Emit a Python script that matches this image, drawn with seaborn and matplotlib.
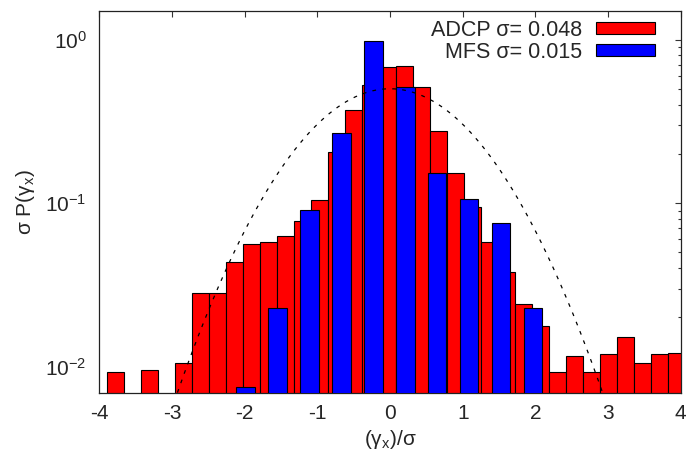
import numpy as np
import matplotlib
matplotlib.use("Agg")
import matplotlib.pyplot as plt
import seaborn as sns
from matplotlib.patches import Patch
from matplotlib.ticker import LogLocator, FixedLocator, NullLocator

# ---- data ----
adcp_x = [-3.780, -3.312, -2.844, -2.610, -2.376, -2.142, -1.908, -1.674, -1.440,
          -1.206, -0.972, -0.738, -0.504, -0.270, -0.036, 0.198, 0.432, 0.666,
          0.900, 1.134, 1.368, 1.602, 1.836, 2.070, 2.304, 2.538, 2.772, 3.006,
          3.240, 3.474, 3.708, 3.942]
adcp_p = [0.0093, 0.0096, 0.0106, 0.0282, 0.0282, 0.0436, 0.056, 0.0575, 0.0626,
          0.0773, 0.104, 0.205, 0.371, 0.526, 0.677, 0.684, 0.511, 0.277,
          0.152, 0.094, 0.0575, 0.038, 0.024, 0.0177, 0.0093, 0.0116, 0.0093, 0.0119,
          0.0152, 0.0106, 0.0119, 0.0122]
mfs_x = [-1.988, -1.548, -1.108, -0.668, -0.228, 0.212, 0.652, 1.092, 1.532, 1.972]
mfs_p = [0.00755, 0.0227, 0.0906, 0.267, 0.976, 0.509, 0.152, 0.106, 0.0758, 0.0227]

x_ticks = [-4, -3, -2, -1, 0, 1, 2, 3, 4]
adcp_label = "ADCP σ= 0.048"
mfs_label = "MFS σ= 0.015"
gauss_amp = 0.5
x_label = r"($\mathregular{γ_x}$)/σ"
y_label = r"σ P($\mathregular{γ_x}$)"

# ---- style ----
sns.set_style("white")
plt.rcParams.update({
    "font.family": ["Liberation Sans", "DejaVu Sans"],
    "mathtext.fontset": "custom",
    "mathtext.rm": "Liberation Sans",
    "mathtext.it": "Liberation Sans:italic",
    "mathtext.bf": "Liberation Sans:bold",
    "axes.unicode_minus": False,
    "font.size": 15,
})

fig = plt.figure(figsize=(6.92, 4.58), dpi=100)
ax = fig.add_axes([0.1435, 0.1426, 0.8402, 0.834])

sns.barplot(x=adcp_x, y=adcp_p, native_scale=True, width=1.0, color="#ff0000",
            saturation=1, edgecolor="black", linewidth=0.8, errorbar=None, ax=ax,
            zorder=2)
sns.barplot(x=mfs_x, y=mfs_p, native_scale=True, width=0.568, color="#0000ff",
            saturation=1, edgecolor="black", linewidth=0.8, errorbar=None, ax=ax,
            zorder=3)

gx = np.linspace(-4, 4, 801)
gy = gauss_amp * np.exp(-gx ** 2 / 2)
sns.lineplot(x=gx, y=gy, color="black", linewidth=0.9, linestyle=(0, (3, 5)),
             ax=ax, zorder=5)

ax.set_yscale("log")
ax.set_xlim(-4, 4)
ax.set_ylim(0.00693, 1.5)
ax.xaxis.set_major_locator(FixedLocator(x_ticks))
ax.xaxis.set_minor_locator(NullLocator())
ax.yaxis.set_major_locator(LogLocator(base=10))
ax.yaxis.set_minor_locator(LogLocator(base=10, subs=np.arange(2, 10)))

ax.tick_params(which="both", direction="in", top=True, right=True, width=0.8,
               color="#333333", labelsize=15)
ax.tick_params(which="major", length=4.5)
ax.tick_params(which="minor", length=2.4)
ax.tick_params(axis="x", pad=8)
ax.tick_params(axis="y", pad=9)
for s in ax.spines.values():
    s.set_linewidth(0.9)
    s.set_color("#222222")

ax.set_xlabel(x_label, fontsize=15, labelpad=4)
ax.set_ylabel(y_label, fontsize=15, labelpad=6)

handles = [Patch(facecolor="#ff0000", edgecolor="black", linewidth=0.8, label=adcp_label),
           Patch(facecolor="#0000ff", edgecolor="black", linewidth=0.8, label=mfs_label)]
ax.legend(handles=handles, loc="upper right", bbox_to_anchor=(0.9558, 0.976),
          frameon=False, markerfirst=False, handlelength=2.74, handleheight=0.5,
          handletextpad=0.65, labelspacing=0.05, borderaxespad=0, borderpad=0,
          fontsize=15.5)

fig.savefig("out.png", dpi=100)
